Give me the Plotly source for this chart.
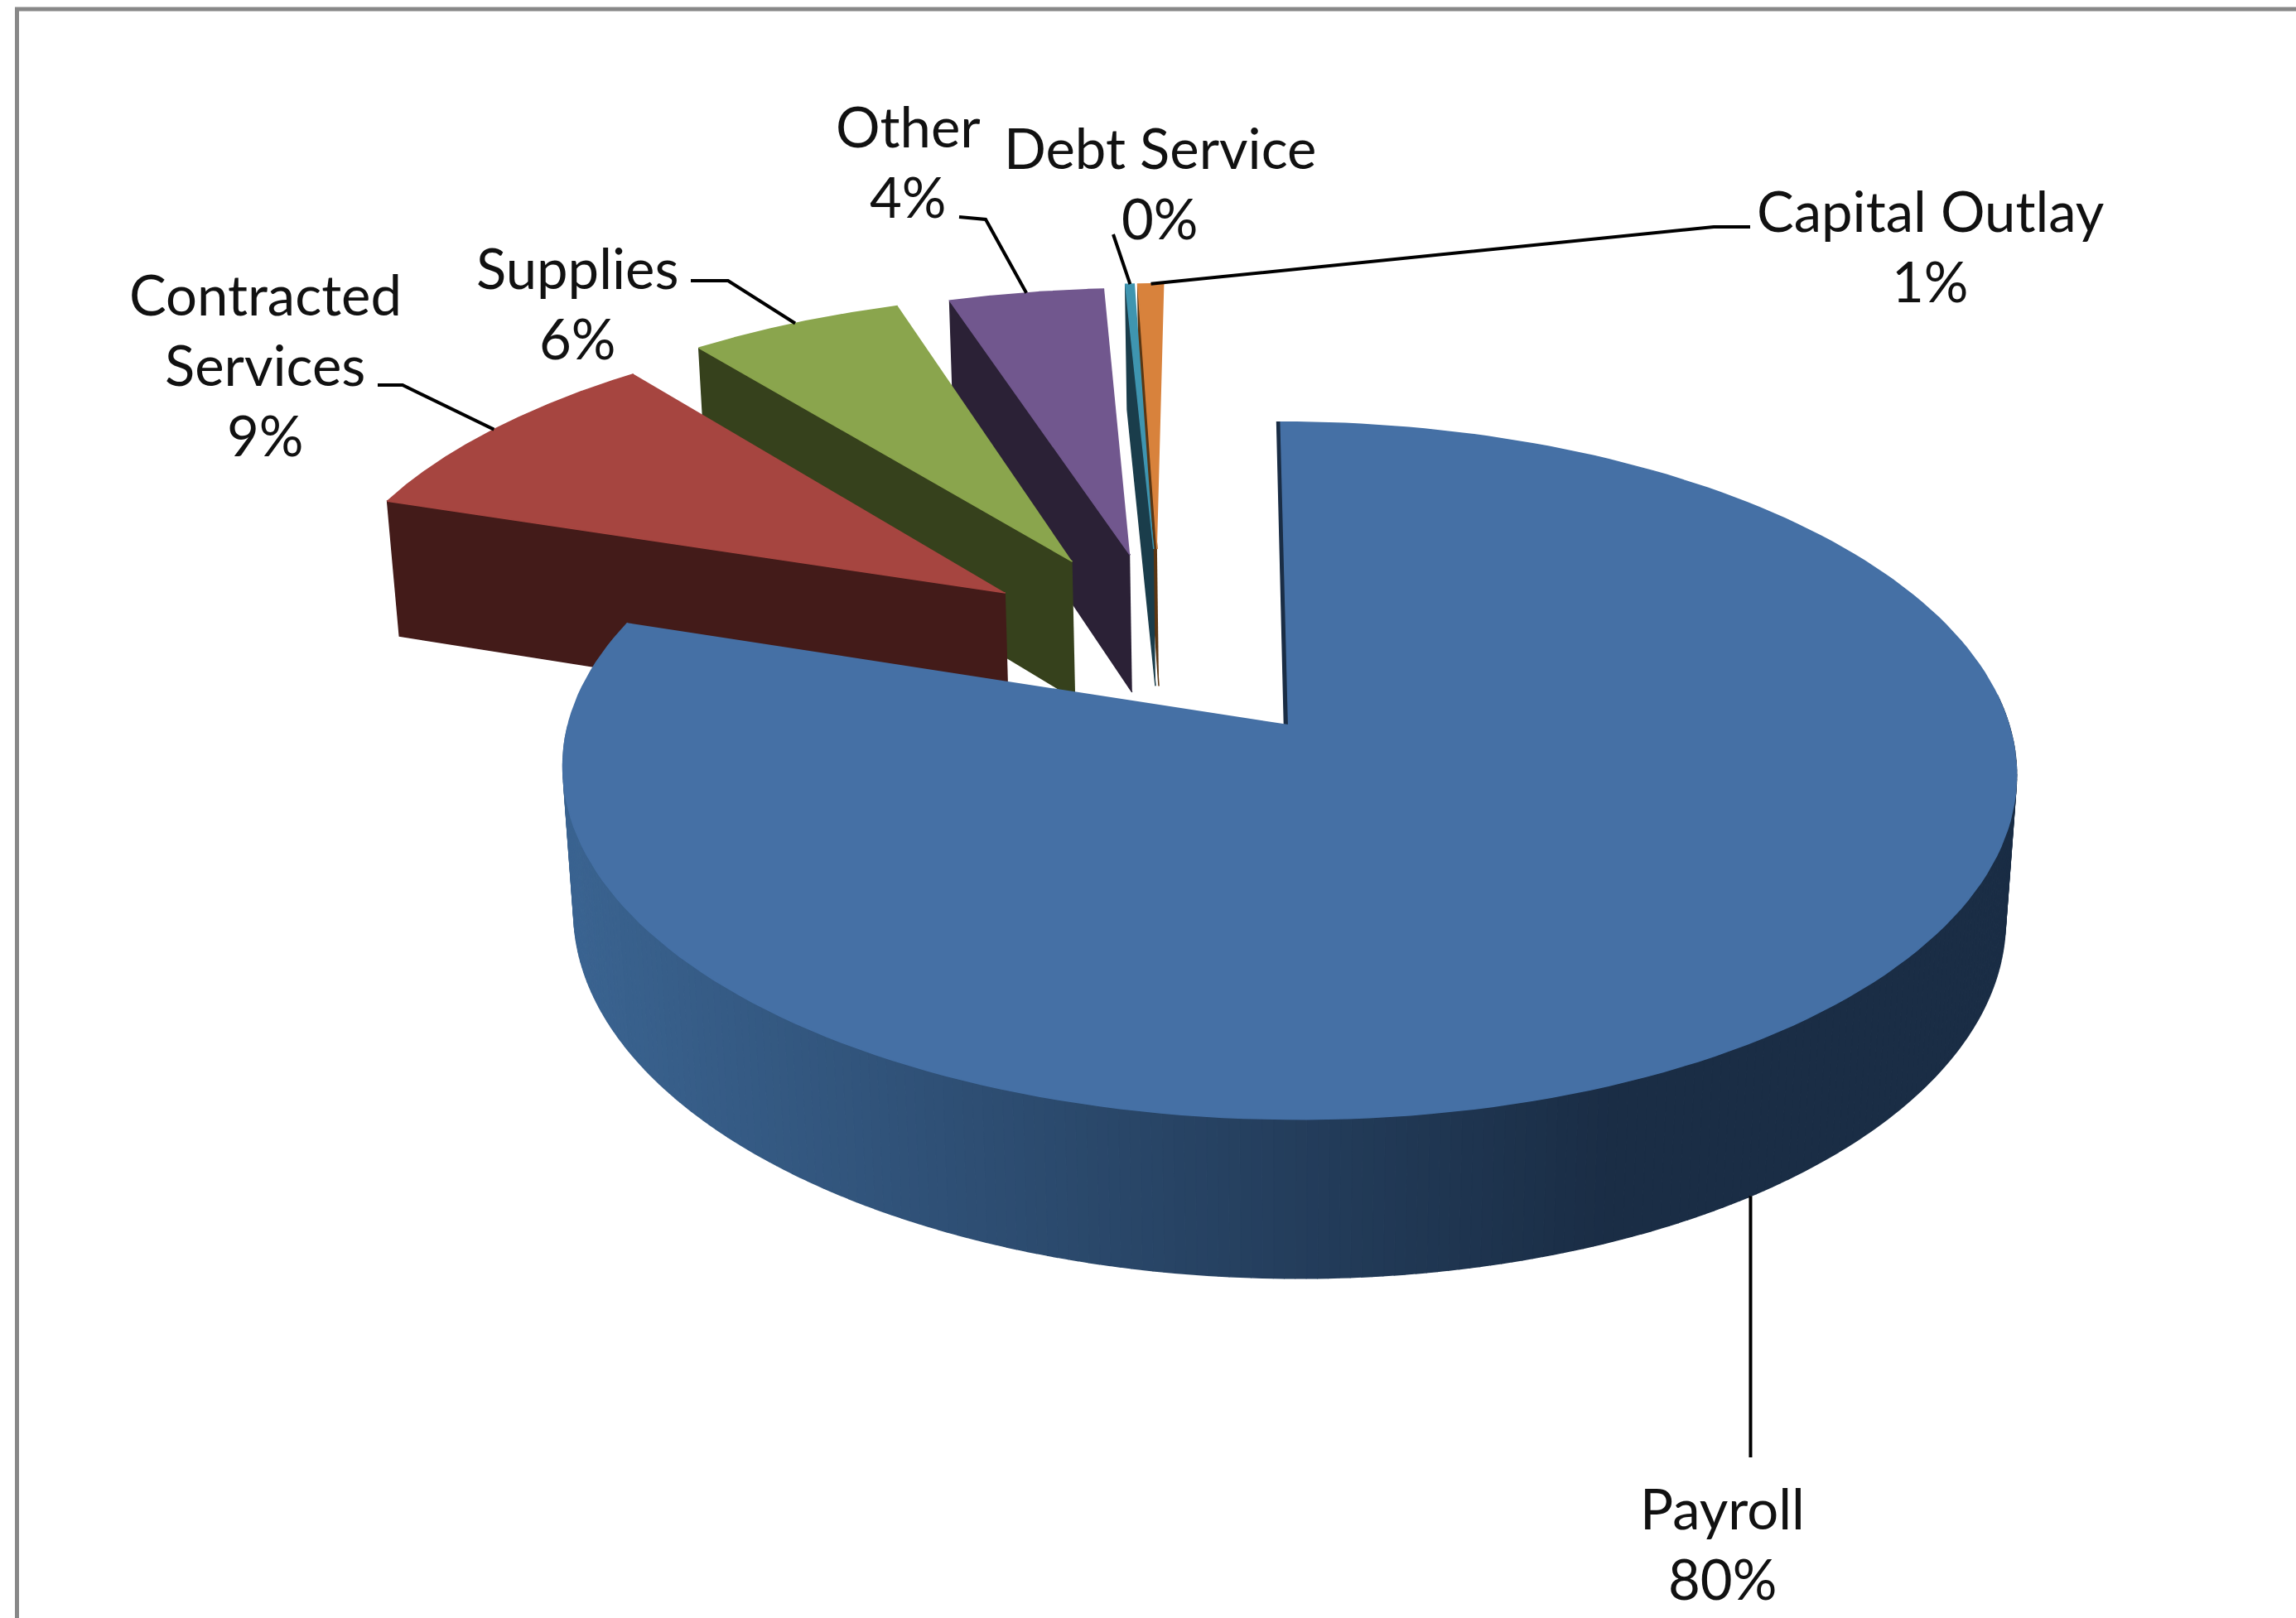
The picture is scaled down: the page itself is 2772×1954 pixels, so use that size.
import numpy as np
import plotly.graph_objects as go

# values (percent of budget), clockwise from 12 o'clock
categories = ["Payroll", "Contracted Services", "Supplies", "Other", "Debt Service", "Capital Outlay"]
values = [80.0, 9.2, 5.7, 4.15, 0.25, 0.7]

top_colors = ["#4570a5", "#a64540", "#8aa54d", "#71578e", "#3f95b0", "#d8823c"]
side_colors = ["#1a2d45", "#431b19", "#36411c", "#2b2136", "#1a3d4b", "#5b3612"]

# how far each slice is pulled out of the pie
explode_x = [0.004, -0.405, -0.31, -0.225, -0.19, -0.185]
explode_y = [0, 0.405, 0.508, 0.53, 0.55, 0.55]

# label text lines and where they sit (image coordinates)
label_lines = [["Payroll"], ["Contracted", "Services"], ["Supplies"], ["Other"], ["Debt Service"], ["Capital Outlay"]]
label_x = [2079, 320, 697, 1096, 1400, 2330]
label_y = [1821, 355, 323, 152, 178, 254]
leader_elbow_x = [None, 486, 879, 1190, None, 2069]
leader_elbow_y = [None, 465, 339, 265, None, 274]
leader_end_x = [2116, 456, 834, 1158, 1344, 2113]
leader_end_y = [1760, 465, 339, 262, 283, 274]
leader_frac = [0.504, 0.5, 0.5, 0.5, 0.5, 0.5]

# pie "camera"
K = 2772 / 1568
CX, CY = 878 * K, 495 * K
RX, RY = 492 * K, 234 * K
DEPTH = 100 * K
PERSP = 0.132
PERSP_Z = 0.015
SHEAR = -5.8 * K
LINE_PITCH = 85
FONT = dict(family="Lato, Open Sans, sans-serif", size=67, color="#111111")


def project(x, y, z=0.0):
    x, y = np.asarray(x, float), np.asarray(y, float)
    s = 1 / (1 + PERSP * y + PERSP_Z * z)
    return CX + (RX * x + SHEAR * y) * s, CY + (DEPTH * z - RY * y) * s


def rim(theta, ex, ey, z=0.0):
    return project(ex + np.sin(theta), ey + np.cos(theta), z)


def poly(fig, xs, ys, color):
    fig.add_trace(go.Scatter(x=np.asarray(xs), y=np.asarray(ys), mode="lines", fill="toself",
                             fillcolor=color, line=dict(color=color, width=1.5), hoverinfo="skip"))


def wall_color(t):
    left, right = np.array([58, 99, 144]), np.array([26, 45, 69])
    r, g, b = left + (right - left) * min(max(t, 0), 1)
    return f"rgb({r:.0f},{g:.0f},{b:.0f})"


fig = go.Figure()

edges = np.radians(np.concatenate([[0], np.cumsum(values)]) * 3.6)

# slices drawn back to front: the thin ones first, Payroll last
for i in [5, 4, 3, 2, 1, 0]:
    a0, a1 = edges[i], edges[i + 1]
    ex, ey = explode_x[i], explode_y[i]
    arc = np.linspace(a0, a1, 200)
    ax, ay = project(ex, ey)
    bx, by = project(ex, ey, 1)

    if i == 0:
        # outer wall of the big slice, shaded left to right
        wall = np.radians(np.linspace(85, 270, 240))
        for t0, t1 in zip(wall[:-1], wall[1:]):
            seg = np.linspace(t0, t1, 3)
            xt, yt = rim(seg, ex, ey)
            xb, yb = rim(seg, ex, ey, 1)
            tone = (xt.mean() - 390 * K) / ((1100 - 390) * K)
            poly(fig, np.r_[xt, xb[::-1]], np.r_[yt, yb[::-1]], wall_color(tone))
        # narrow sliver of the cut face next to 12 o'clock
        sx, sy = project([ex, ex, ex - 0.006, ex - 0.006], [0, 1, 1, 0])
        poly(fig, sx, sy, side_colors[0])
    else:
        # cut face that looks towards the viewer
        tx, ty = rim(a0, ex, ey)
        ux, uy = rim(a0, ex, ey, 1)
        poly(fig, [ax, tx, ux, bx], [ay, ty, uy, by], side_colors[i])

    rx, ry = rim(arc, ex, ey)
    poly(fig, np.r_[ax, rx], np.r_[ay, ry], top_colors[i])

# leader lines and labels
for i, name in enumerate(categories):
    anchor = edges[i] + (edges[i + 1] - edges[i]) * leader_frac[i]
    lx, ly = rim(anchor, explode_x[i], explode_y[i], 1 if i == 0 else 0)
    xs, ys = [float(lx)], [float(ly)]
    if leader_elbow_x[i] is not None:
        xs.append(leader_elbow_x[i])
        ys.append(leader_elbow_y[i])
    xs.append(float(lx) if i == 0 else leader_end_x[i])
    ys.append(leader_end_y[i])
    fig.add_trace(go.Scatter(x=xs, y=ys, mode="lines", line=dict(color="#000000", width=4), hoverinfo="skip"))

    lines = label_lines[i] + [f"{round(values[i])}%"]
    for n, line in enumerate(lines):
        fig.add_annotation(x=label_x[i], y=label_y[i] + n * LINE_PITCH, text=line, showarrow=False,
                           xanchor="center", yanchor="middle", font=FONT)

fig.update_layout(
    width=2772, height=1954, margin=dict(l=0, r=0, t=0, b=0),
    paper_bgcolor="white", plot_bgcolor="white", showlegend=False,
    xaxis=dict(range=[0, 2772], visible=False, fixedrange=True),
    yaxis=dict(range=[1954, 0], visible=False, fixedrange=True),
    shapes=[dict(type="rect", xref="x", yref="y", x0=20.5, y0=11, x1=2800, y1=2000,
                 line=dict(color="#888888", width=5), layer="below")],
)

fig.write_html("out.html", config={"displayModeBar": False}, post_script="document.body.style.margin='0';")
